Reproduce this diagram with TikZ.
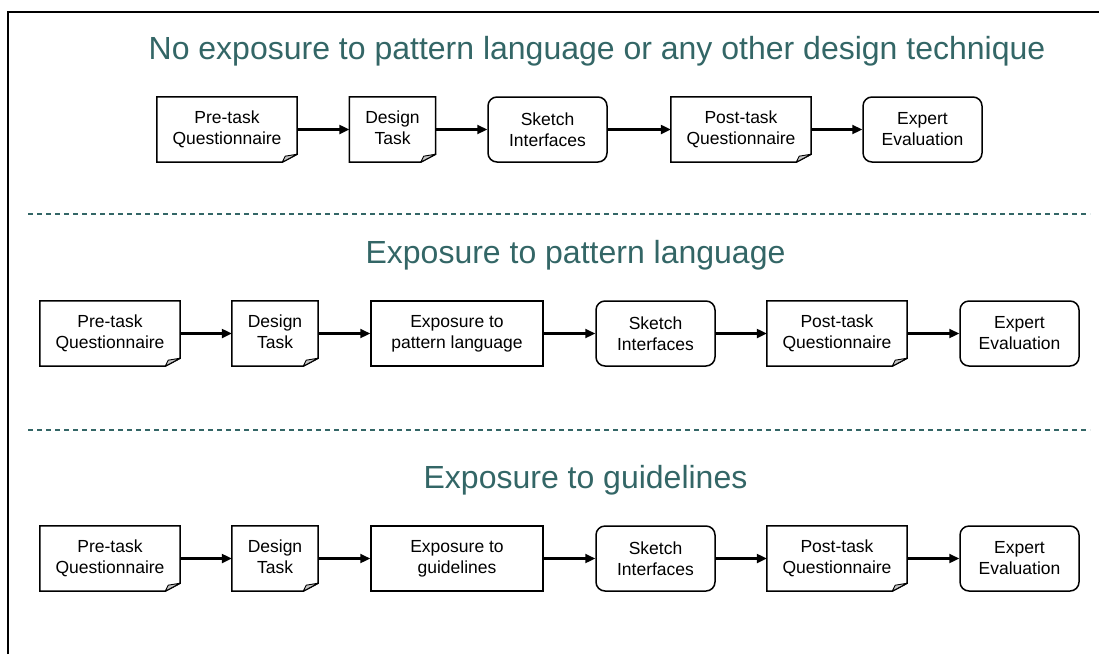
\documentclass[tikz,border=0pt]{standalone}
\usepackage{fontspec}
\setmainfont{Liberation Sans}
\usetikzlibrary{arrows.meta}
\definecolor{headteal}{RGB}{51,102,102}
\newcommand\boxfont{\fontsize{17.5}{21}\selectfont}
\newcommand\titlefont{\fontsize{32}{38}\selectfont}
% two centred lines, lifted a little above the fold of a document shape
\newcommand\doctext[2]{\raisebox{3pt}{\begin{tabular}{@{}c@{}}#1\\#2\end{tabular}}}

\begin{document}
\begin{tikzpicture}[x=1pt,y=-1pt,
  box/.style={draw, line width=1.5pt, font=\boxfont, align=center,
              minimum height=65pt, inner sep=0pt},
  plainbox/.style={box},
  taskbox/.style={box, rounded corners=9pt},
  docbox/.style={font=\boxfont, minimum height=65pt, inner sep=0pt},
  flow/.style={line width=2.2pt, -{Triangle[length=10pt,width=9pt]}},
  heading/.style={font=\titlefont, text=headteal},
  divider/.style={headteal, line width=1.3pt, dash pattern=on 5pt off 4pt}]

\useasboundingbox (0,0) rectangle (1099,654);

% slide frame (left and top edges)
\draw[line width=2.2pt] (8,654) -- (8,12) -- (1099,12);

% ---- condition 1 ----
\node[heading] (t1) at (597,51) {No exposure to pattern language or any other design technique};
\node[docbox, minimum width=140pt] (a1) at (227,129.5) {\doctext{Pre-task}{Questionnaire}};
\node[docbox, minimum width=86pt]  (a2) at (392.5,129.5) {\doctext{Design}{Task}};
\node[taskbox, minimum width=119pt] (a3) at (547.5,129.5) {Sketch\\Interfaces};
\node[docbox, minimum width=140pt] (a4) at (741,129.5) {\doctext{Post-task}{Questionnaire}};
\node[taskbox, minimum width=119pt] (a5) at (922.5,129.5) {Expert\\Evaluation};

\draw[divider] (28,214) -- (1090,214);

% ---- condition 2 ----
\node[heading] (t2) at (575.5,255) {Exposure to pattern language};
\node[docbox, minimum width=140pt] (b1) at (110,333.5) {\doctext{Pre-task}{Questionnaire}};
\node[docbox, minimum width=86pt]  (b2) at (275,333.5) {\doctext{Design}{Task}};
\node[plainbox, minimum width=172pt] (b3) at (457,333.5) {Exposure to\\pattern language};
\node[taskbox, minimum width=119pt] (b4) at (655.5,333.5) {Sketch\\Interfaces};
\node[docbox, minimum width=140pt] (b5) at (837,333.5) {\doctext{Post-task}{Questionnaire}};
\node[taskbox, minimum width=119pt] (b6) at (1019.5,333.5) {Expert\\Evaluation};

\draw[divider] (28,430) -- (1090,430);

% ---- condition 3 ----
\node[heading] (t3) at (585.5,480) {Exposure to guidelines};
\node[docbox, minimum width=140pt] (c1) at (110,558.5) {\doctext{Pre-task}{Questionnaire}};
\node[docbox, minimum width=86pt]  (c2) at (275,558.5) {\doctext{Design}{Task}};
\node[plainbox, minimum width=172pt] (c3) at (457,558.5) {Exposure to\\guidelines};
\node[taskbox, minimum width=119pt] (c4) at (655.5,558.5) {Sketch\\Interfaces};
\node[docbox, minimum width=140pt] (c5) at (837,558.5) {\doctext{Post-task}{Questionnaire}};
\node[taskbox, minimum width=119pt] (c6) at (1019.5,558.5) {Expert\\Evaluation};

% document outlines with a folded lower-right corner
\foreach \n in {a1,a2,a4,b1,b2,b5,c1,c2,c5} {
  \draw[line width=1.5pt, line join=miter]
    (\n.north west) -- (\n.north east) -- ([yshift=8pt]\n.south east)
    -- ([xshift=-15pt]\n.south east) -- (\n.south west) -- cycle;
  \draw[line width=0.9pt, fill=gray!45, line join=round]
    ([xshift=-15pt]\n.south east) -- ([yshift=8pt]\n.south east)
    -- ([xshift=-12pt,yshift=6pt]\n.south east) -- cycle;
}

% process flow
\foreach \p/\q in {a1/a2,a2/a3,a3/a4,a4/a5,
                   b1/b2,b2/b3,b3/b4,b4/b5,b5/b6,
                   c1/c2,c2/c3,c3/c4,c4/c5,c5/c6}
  \draw[flow] (\p.east) -- (\q.west);
\end{tikzpicture}
\end{document}
